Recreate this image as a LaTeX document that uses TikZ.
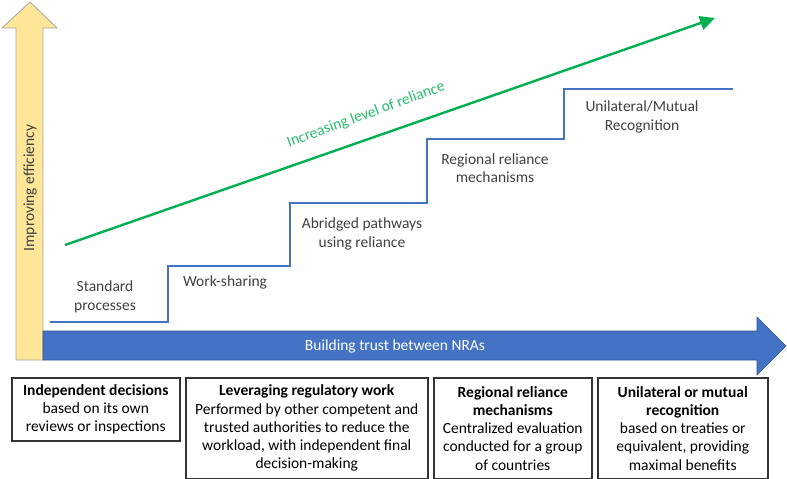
\documentclass[tikz,border=0pt]{standalone}
\usepackage{fontspec}
\setmainfont{Carlito}
\usetikzlibrary{arrows.meta}

\definecolor{effyellow}{HTML}{FFE699}
\definecolor{effedge}{HTML}{A5A5A5}
\definecolor{trustblue}{HTML}{4472C4}
\definecolor{trustedge}{HTML}{2F528F}
\definecolor{relgreen}{HTML}{00B050}
\definecolor{labelgray}{HTML}{404040}

\begin{document}
\begin{tikzpicture}[x=1pt,y=-1pt,font=\fontsize{15.5}{18.3}\selectfont]

\tikzset{
  steplabel/.style={align=center, text=labelgray, inner sep=0pt},
  stepline/.style={draw=trustblue, line width=2pt},
  infobox/.style={draw=black!80, line width=1.5pt, align=center, inner sep=2pt, minimum height=101pt},
}

\useasboundingbox (0,0) rectangle (787,479);

%% Improving efficiency (vertical arrow)
\filldraw[fill=effyellow,draw=effedge,line width=0.8pt] (16,360) -- (16,28) -- (2,28) -- (30,2) -- (57,28) -- (43,28) -- (43,360) -- cycle;
\node[rotate=90, text=labelgray] (eff) at (30,188) {Improving efficiency};

%% Building trust (horizontal arrow)
\filldraw[fill=trustblue,draw=trustedge,line width=0.6pt] (43,331) -- (757,331) -- (757,317) -- (786,346) -- (757,375) -- (757,360) -- (43,360) -- cycle;
\node[text=white] (trust) at (395,346) {Building trust between NRAs};

%% Steps
\draw[stepline] (50,322) -| (168,266) -| (290,203) -| (427,139) -| (564,89) -- (733,89);

\node[steplabel] (std) at (105,297) {Standard\\processes};
\node[steplabel] (work) at (225,282) {Work-sharing};
\node[steplabel] (abr) at (362,234) {Abridged pathways\\using reliance};
\node[steplabel] (reg) at (495,168) {Regional reliance\\mechanisms};
\node[steplabel] (uni) at (642,117) {Unilateral/Mutual\\Recognition};

%% Reliance
\coordinate (relstart) at (65,245);
\coordinate (relend) at (715,18);
\draw[relgreen, line width=2.4pt, -{Triangle[length=15pt,width=14pt]}] (relstart) -- (relend);
\node[rotate=20, text=relgreen!85!white] (rel) at (366,115) {Increasing level of reliance};

%% Bottom boxes
\node[infobox, minimum width=168pt, minimum height=63pt, anchor=north west] (indep) at (11,377)
  {\textbf{Independent decisions}\\based on its own\\reviews or inspections};
\node[infobox, minimum width=242pt, anchor=north west] (lever) at (185,377)
  {\textbf{Leveraging regulatory work}\\Performed by other competent and\\trusted authorities to reduce the\\workload, with independent final\\decision-making};
\node[infobox, minimum width=158pt, anchor=north west] (regmech) at (433,377)
  {\textbf{Regional reliance}\\\textbf{mechanisms}\\Centralized evaluation\\conducted for a group\\of countries};
\node[infobox, minimum width=170pt, anchor=north west] (recog) at (597,377)
  {\textbf{Unilateral or mutual}\\\textbf{recognition}\\based on treaties or\\equivalent, providing\\maximal benefits};

\end{tikzpicture}
\end{document}
